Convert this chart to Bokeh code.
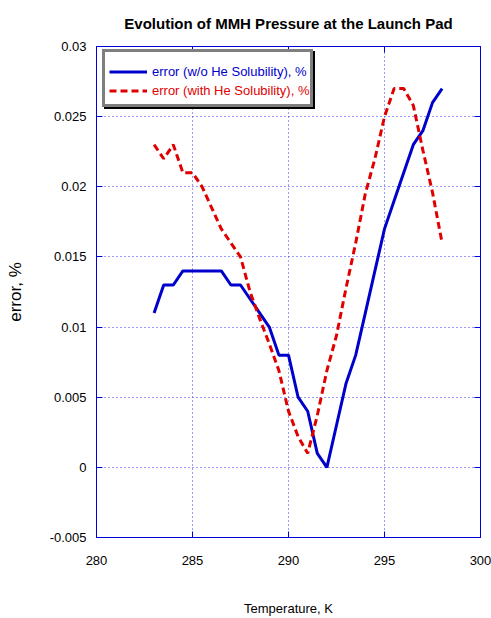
from bokeh.plotting import figure
from bokeh.models import Legend, LegendItem, LinearAxis, FixedTicker, Range1d, CustomJSTickFormatter
from bokeh.embed import file_html
from bokeh.resources import INLINE

# ---- data ----
temperature_k = [283.0, 283.5, 284.0, 284.5, 285.0, 285.5, 286.0, 286.5, 287.0, 287.5,
                 288.0, 288.5, 289.0, 289.5, 290.0, 290.5, 291.0, 291.5, 292.0, 292.5,
                 293.0, 293.5, 294.0, 294.5, 295.0, 295.5, 296.0, 296.5, 297.0, 297.5, 298.0]
err_without_he = [0.011, 0.013, 0.013, 0.014, 0.014, 0.014, 0.014, 0.014, 0.013, 0.013,
                  0.012, 0.011, 0.010, 0.008, 0.008, 0.005, 0.004, 0.001, 0.000, 0.003,
                  0.006, 0.008, 0.011, 0.014, 0.017, 0.019, 0.021, 0.023, 0.024, 0.026, 0.027]
err_with_he = [0.023, 0.022, 0.023, 0.021, 0.021, 0.020, 0.0185, 0.017, 0.016, 0.015,
               0.0125, 0.0106, 0.0088, 0.0069, 0.0040, 0.0022, 0.0010, 0.0037, 0.0069, 0.0094,
               0.0128, 0.0160, 0.0195, 0.0220, 0.0250, 0.0270, 0.0270, 0.0258, 0.0226, 0.0196, 0.0160]

x_ticks = [280, 285, 290, 295, 300]
x_tick_labels = ["280", "285", "290", "295", "300"]
y_ticks = [-0.005, 0, 0.005, 0.01, 0.015, 0.02, 0.025, 0.03]
y_tick_labels = ["-0.005", "0", "0.005", "0.01", "0.015", "0.02", "0.025", "0.03"]

label_without = "error (w/o He Solubility), %"
label_with = "error (with He Solubility), %"
title_text = "Evolution of MMH Pressure at the Launch Pad"
x_label = "Temperature, K"
y_label = "error, %"

# ---- styling ----
FONT = "'Liberation Sans'"
BLUE = "#0000cc"
RED = "#e00000"
FRAME = "#0000dd"

p = figure(width=491, height=618, output_backend="svg", toolbar_location=None,
           x_range=Range1d(280, 300), y_range=Range1d(-0.005, 0.03),
           min_border_left=96, min_border_right=11, min_border_top=46, min_border_bottom=81)
p.background_fill_color = "white"
p.border_fill_color = "white"
p.outline_line_color = FRAME

p.title.text = title_text
p.title.align = "center"
p.title.vertical_align = "top"
p.title.text_font = FONT
p.title.text_font_size = "15px"
p.title.text_font_style = "bold"
p.title.text_color = "black"
p.title.standoff = 26

xt = FixedTicker(ticks=x_ticks)
yt = FixedTicker(ticks=y_ticks)

for ax in p.xaxis:
    ax.ticker = xt
    ax.major_label_overrides = dict(zip(x_ticks, x_tick_labels))
    ax.axis_label = x_label
    ax.axis_label_standoff = 33
    ax.major_label_standoff = 18
for ax in p.yaxis:
    ax.ticker = yt
    ax.major_label_overrides = dict(zip(y_ticks, y_tick_labels))
    ax.axis_label = y_label
    ax.axis_label_standoff = 22
    ax.major_label_standoff = 10

for ax in list(p.xaxis) + list(p.yaxis):
    ax.axis_line_color = FRAME
    ax.major_tick_line_color = FRAME
    ax.major_tick_in = 6
    ax.major_tick_out = 0
    ax.minor_tick_line_color = None
    ax.major_label_text_font = FONT
    ax.major_label_text_font_size = "13px"
    ax.major_label_text_color = "black"
    ax.axis_label_text_font = FONT
    ax.axis_label_text_font_style = "normal"
    ax.axis_label_text_color = "black"
p.xaxis.axis_label_text_font_size = "13px"
p.yaxis.axis_label_text_font_size = "17px"

# frame ticks on the top and right sides
blank = CustomJSTickFormatter(code="return ''")
for loc, tk in (("right", yt), ("above", xt)):
    ax = LinearAxis(ticker=tk, formatter=blank, axis_line_color=FRAME, major_tick_line_color=FRAME,
                    major_tick_in=6, major_tick_out=0, minor_tick_line_color=None,
                    major_label_text_font_size="0px", major_label_standoff=0,
                    axis_label_standoff=0)
    p.add_layout(ax, loc)

for g in (p.xgrid, p.ygrid):
    g.grid_line_color = "#2222ee"
    g.grid_line_dash = "1 3"
    g.grid_line_width = 1
    g.grid_line_alpha = 0.9

r_blue = p.line(temperature_k, err_without_he, line_color=BLUE, line_width=3)
r_red = p.line(temperature_k, err_with_he, line_color=RED, line_width=3, line_dash="7 4")
# invisible stand-ins so the legend frame does not draw its own glyphs
ghost_blue = p.line([], [], line_alpha=0)
ghost_red = p.line([], [], line_alpha=0)

PAD = 7
ROW = 19
common = dict(spacing=0, label_height=ROW, glyph_height=ROW, glyph_width=38,
              label_standoff=5, margin=0, label_text_font=FONT)
vx, vy = 6, 430

shadow = Legend(items=[LegendItem(label=label_without, renderers=[ghost_blue]),
                       LegendItem(label=label_with, renderers=[ghost_red])],
                location=(vx + 2, vy - 2), padding=PAD, background_fill_color="black",
                background_fill_alpha=1, border_line_color="black", border_line_width=3,
                label_text_alpha=0, label_text_font_size="12.2px", **common)
main = Legend(items=[LegendItem(label=label_without, renderers=[ghost_blue]),
                     LegendItem(label=label_with, renderers=[ghost_red])],
              location=(vx, vy), padding=PAD, background_fill_color="white",
              background_fill_alpha=1, border_line_color="black", border_line_width=3,
              label_text_alpha=0, label_text_font_size="12.2px", **common)
blue_text = Legend(items=[LegendItem(label=label_without, renderers=[r_blue])],
                   location=(vx + PAD, vy + PAD + ROW), padding=0, background_fill_alpha=0,
                   border_line_alpha=0, label_text_color=BLUE, label_text_font_size="13px", **common)
red_text = Legend(items=[LegendItem(label=label_with, renderers=[r_red])],
                  location=(vx + PAD, vy + PAD), padding=0, background_fill_alpha=0,
                  border_line_alpha=0, label_text_color=RED, label_text_font_size="13px", **common)
for lg in (shadow, main, blue_text, red_text):
    p.add_layout(lg, "center")

open("out.html", "w").write(file_html(p, INLINE))
